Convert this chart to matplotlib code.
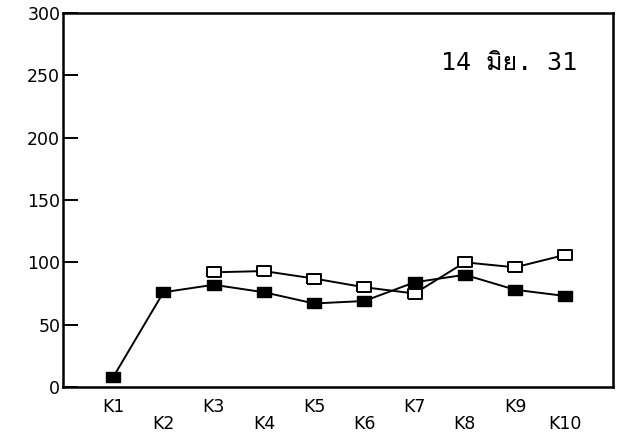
import matplotlib
matplotlib.use("Agg")
import matplotlib.pyplot as plt
from matplotlib import font_manager
from matplotlib.ft2font import FT2Font

# data
stations = ["K1", "K2", "K3", "K4", "K5", "K6", "K7", "K8", "K9", "K10"]
positions = [1, 2, 3, 4, 5, 6, 7, 8, 9, 10]
filled_vals = [8, 76, 82, 76, 67, 69, 84, 90, 78, 73]
open_pos = [3, 4, 5, 6, 7, 8, 9, 10]
open_vals = [92, 93, 87, 80, 75, 100, 96, 106]
yticks = [0, 50, 100, 150, 200, 250, 300]
date_text = "14 มิย. 31"


def thai_family():
    # find any installed font that has Thai glyphs
    for f in font_manager.fontManager.ttflist:
        try:
            if 0x0E21 in FT2Font(f.fname).get_charmap():
                return f.name
        except Exception:
            pass
    return None


fam = ["DejaVu Sans Mono"]
tf = thai_family()
if tf:
    fam.append(tf)
fam.append("DejaVu Sans")

fig = plt.figure(figsize=(6.22, 4.38), dpi=100)
ax = fig.add_axes([63 / 622, 1 - 387 / 438, 550 / 622, 374 / 438])

# rectangular markers, wider than tall
rect = [(-1.4, -1), (1.4, -1), (1.4, 1), (-1.4, 1), (-1.4, -1)]
ax.plot(positions, filled_vals, color="black", lw=1.4, marker=rect, ms=10,
        mfc="black", mec="black", zorder=3)
ax.plot(open_pos, open_vals, color="black", lw=1.4, marker=rect, ms=10,
        mfc="white", mec="black", mew=1.4, zorder=3)

ax.set_xlim(0, 10.95)
ax.set_ylim(0, 300)
ax.set_yticks(yticks)
ax.set_yticklabels([str(v) for v in yticks], fontsize=12.5)
ax.tick_params(axis="y", direction="in", length=11, width=1.4, pad=2)

labels = [s if i % 2 == 0 else "\n" + s for i, s in enumerate(stations)]
ax.set_xticks(positions)
ax.set_xticklabels(labels, fontsize=12.5, linespacing=0.9)
ax.tick_params(axis="x", length=0, pad=8)

for sp in ax.spines.values():
    sp.set_linewidth(1.8)

ax.text(0.935, 0.848, date_text, transform=ax.transAxes, ha="right",
        va="baseline", fontsize=18, family=fam)

fig.savefig("out.png", dpi=100)
